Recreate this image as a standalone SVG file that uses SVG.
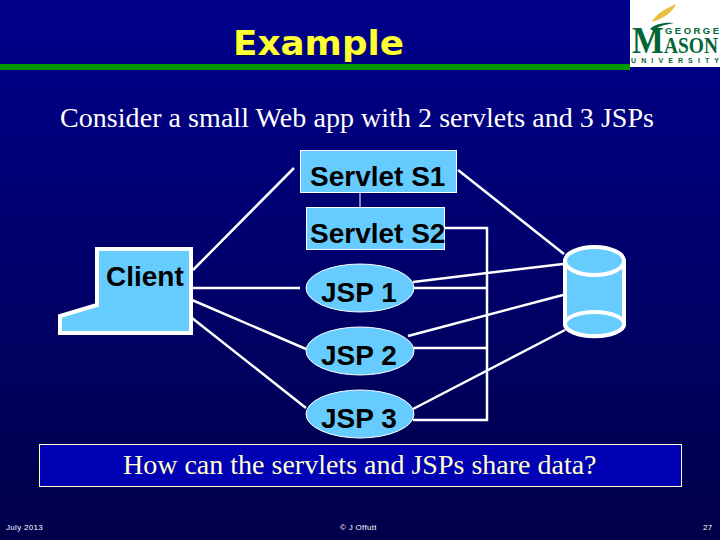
<svg xmlns="http://www.w3.org/2000/svg" width="720" height="540" viewBox="0 0 720 540">
<style>
.b{font-family:"Liberation Sans",Arial,sans-serif;font-weight:bold;font-size:28px;fill:#000}
.s{font-family:"Liberation Serif","Times New Roman",serif;font-size:28px;fill:#ffffcc}
.w{fill:#fff}
.f{font-family:"Liberation Sans",Arial,sans-serif;font-size:8px;fill:#fff;letter-spacing:.3px}
.n{fill:#66ccff;stroke:#fff;stroke-width:1}
.l{fill:none;stroke:#fff;stroke-width:2.5}
.c{fill:#66ccff;stroke:#fff;stroke-width:4}
.g{font-family:"Liberation Sans",Arial,sans-serif;font-weight:bold;fill:#006633}
.m{font-family:"Liberation Serif",serif;font-weight:bold;fill:#006633}
</style>
<defs><linearGradient id="bg" x1="0" y1="0" x2="0" y2="1"><stop offset="0" stop-color="#00008c"/><stop offset="1" stop-color="#00004a"/></linearGradient></defs>
<rect width="720" height="540" fill="url(#bg)"/>
<g id="logo">
<rect x="630" y="0" width="90" height="67" fill="#fff"/>
<path d="M652 22C655 15 664 9 676 4C672 13 664 18 652 22Z" fill="#e8c040"/>
<path d="M650 29C655 24 664 22 674 23C664 25 658 26 654 31Z" fill="#006633"/>
<text class="g" x="665" y="34" font-size="9.500" textLength="54" lengthAdjust="spacing">GEORGE</text>
<text class="m" transform="translate(632 53) scale(.91 1)" font-size="37">M</text>
<text class="m" transform="translate(664 53) scale(.81 1)" font-size="24">ASON</text>
<text class="g" x="631" y="63" font-size="7" textLength="88" lengthAdjust="spacing">UNIVERSITY</text>
</g>
<rect x="0" y="64" width="630" height="6" fill="#009900"/>
<g id="title" font-family="'DejaVu Sans',sans-serif" font-weight="bold" font-size="33">
<text x="234" y="56" fill="#000050" textLength="171" lengthAdjust="spacingAndGlyphs">Example</text>
<text x="233" y="55" fill="#ffff33" textLength="171" lengthAdjust="spacingAndGlyphs">Example</text>
</g>
<text class="s w" x="60" y="127" textLength="594">Consider a small Web app with 2 servlets and 3 JSPs</text>
<g id="connectors">
<path class="l" d="M193 270L294 168"/>
<path class="l" d="M192 288H300"/>
<path class="l" d="M192 300L306 349"/>
<path class="l" d="M192 318L306 408"/>
<path d="M360 193V207" fill="none" stroke="#fff" stroke-width="1"/>
<path class="l" d="M445 228H487V420H413M413 288H487M413 348H487"/>
<path class="l" d="M458 170L564 254"/>
<path class="l" d="M413 282L563 264"/>
<path class="l" d="M408 336L563 295"/>
<path class="l" d="M413 409L565 330"/>
</g>
<g id="client">
<path d="M60 333V316L97 305V249H191V333Z" fill="#66ccff" stroke="#fff" stroke-width="4"/>
<text class="b" x="106" y="286">Client</text>
</g>
<g id="s1"><rect class="n" x="300.500" y="150.500" width="156" height="42"/><text class="b" x="310" y="186">Servlet S1</text></g>
<g id="s2"><rect class="n" x="306.500" y="207.500" width="138" height="42"/><text class="b" x="310" y="243">Servlet S2</text></g>
<g id="jsp1"><ellipse class="n" cx="360" cy="288" rx="54" ry="24"/><text class="b" x="321" y="302">JSP 1</text></g>
<g id="jsp2"><ellipse class="n" cx="360" cy="351" rx="54" ry="24"/><text class="b" x="321" y="365">JSP 2</text></g>
<g id="jsp3"><ellipse class="n" cx="360" cy="414" rx="54" ry="24"/><text class="b" x="321" y="428">JSP 3</text></g>
<g id="db">
<path class="c" d="M565 261V324A29 12 0 0 0 624 324V261Z"/>
<ellipse class="c" cx="594.500" cy="261" rx="29.500" ry="14"/>
<ellipse class="c" cx="594.500" cy="324" rx="29.500" ry="12"/>
</g>
<g id="question"><rect x="39.500" y="444.500" width="642" height="42" fill="#0000b4" stroke="#ffffcc" stroke-width="1"/><text class="s" x="123" y="474">How can the servlets and JSPs share data?</text></g>
<text class="f" x="6" y="530">July 2013</text>
<text class="f" x="340" y="530">© J Offutt</text>
<text class="f" x="703" y="530">27</text>
</svg>
